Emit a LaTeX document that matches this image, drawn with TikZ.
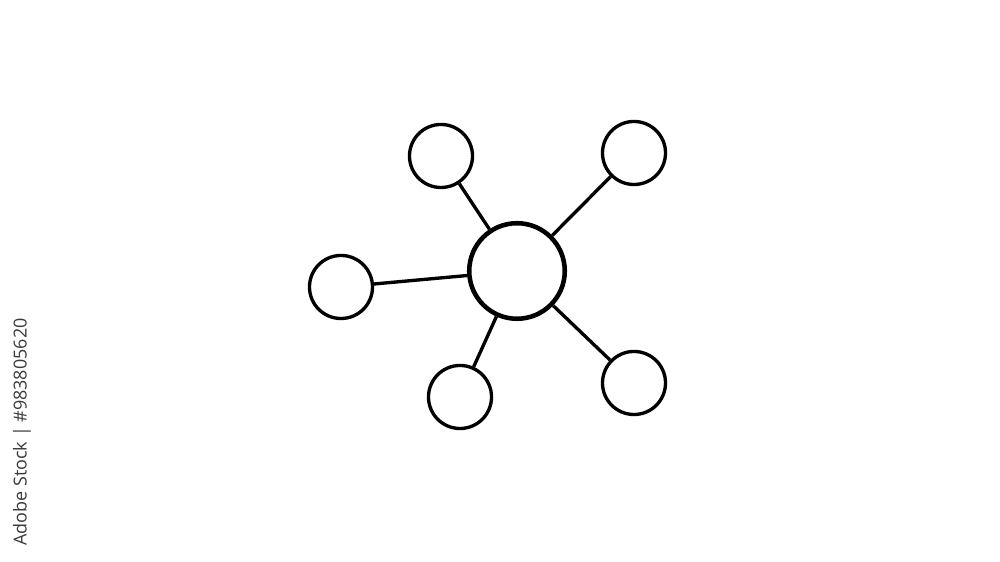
\documentclass[tikz,border=0pt]{standalone}
\usepackage{fontspec}
\newfontfamily\markfont{Open Sans}
\definecolor{markgray}{HTML}{3A3A3A}
\begin{document}
\begin{tikzpicture}[x=0.01cm,y=-0.01cm,
  hub/.style={circle,draw=black,line width=1.3pt,fill=white,inner sep=0pt,minimum size=0.955cm},
  leaf/.style={circle,draw=black,line width=0.95pt,fill=white,inner sep=0pt,minimum size=0.63cm},
  link/.style={draw=black,line width=0.95pt}]
\fill[white] (0,0) rectangle (1000,562);
\useasboundingbox (0,0) rectangle (1000,562);
\node[hub]  (c)  at (517,271) {};
\node[leaf] (tl) at (441,156) {};
\node[leaf] (tr) at (634,153) {};
\node[leaf] (l)  at (341,287) {};
\node[leaf] (bl) at (460,397) {};
\node[leaf] (br) at (634,383) {};
\draw[link] (c) -- (tl);
\draw[link] (c) -- (tr);
\draw[link] (c) -- (l);
\draw[link] (c) -- (bl);
\draw[link] (c) -- (br);
\node[rotate=90,text=markgray,font=\markfont\fontsize{5.1}{6}\selectfont,inner sep=0pt] (wm) at (22,432) {Adobe Stock | \#983805620};
\end{tikzpicture}
\end{document}
